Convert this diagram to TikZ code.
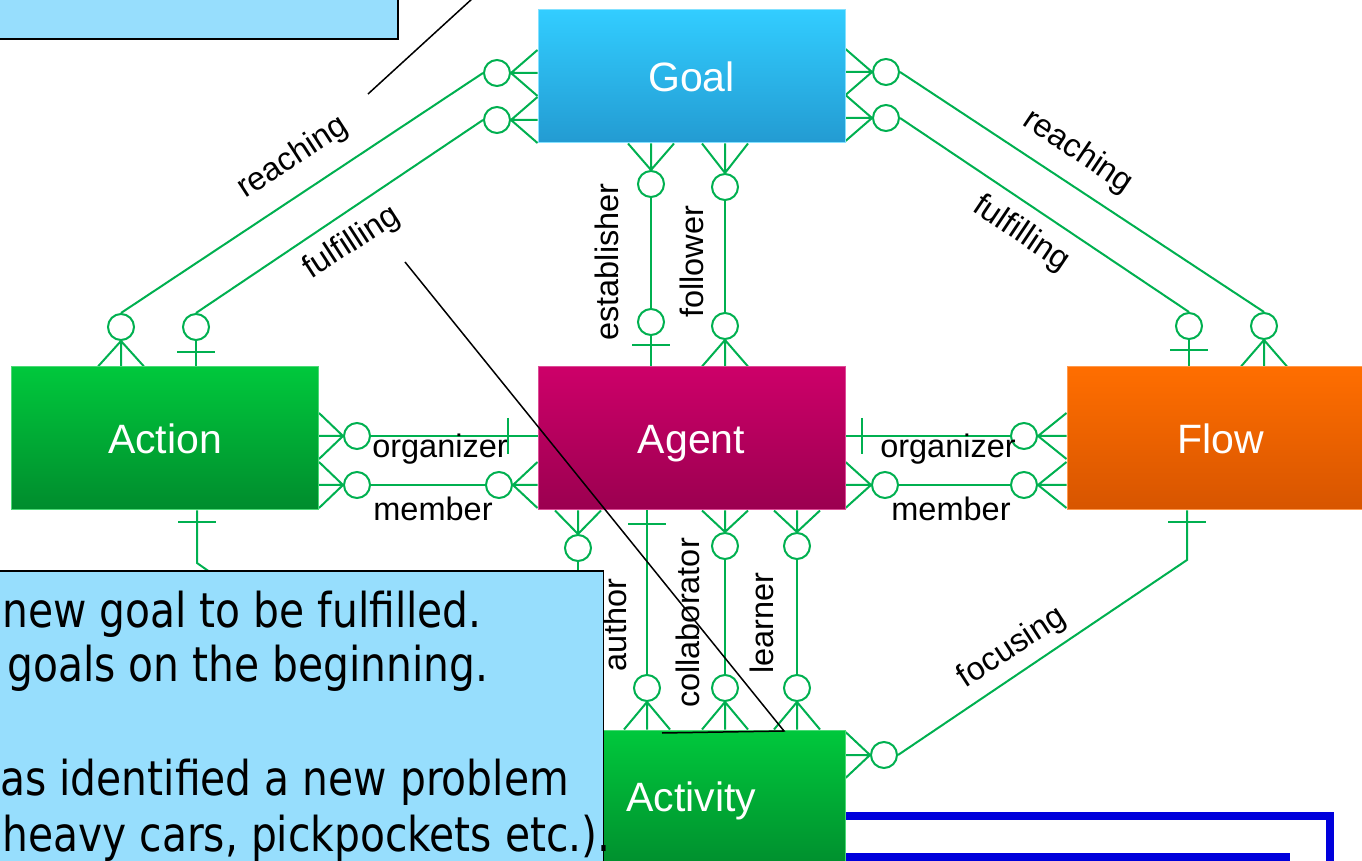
\documentclass[tikz,border=0pt]{standalone}
\usepackage{fontspec}
\setmainfont{Liberation Sans}
\newfontfamily\calfont{DejaVu Sans}[FakeStretch=0.85]
\usetikzlibrary{calc}
\definecolor{erg}{RGB}{0,176,80}
\definecolor{goalT}{RGB}{50,205,255}
\definecolor{goalB}{RGB}{35,155,210}
\definecolor{actT}{RGB}{0,200,60}
\definecolor{actB}{RGB}{0,140,45}
\definecolor{agT}{RGB}{205,0,105}
\definecolor{agB}{RGB}{155,0,80}
\definecolor{flT}{RGB}{255,110,0}
\definecolor{flB}{RGB}{215,85,0}
\definecolor{callfill}{RGB}{151,222,253}
\definecolor{frameblue}{RGB}{0,0,220}
\newcommand\crowH[2]{\draw[erline] (#1) -- ($(#2 |- #1)+(0,-23)$) (#1) -- (#2 |- #1) (#1) -- ($(#2 |- #1)+(0,23)$);}
\newcommand\crowV[2]{\draw[erline] (#1) -- ($(#1 |- #2)+(-23,0)$) (#1) -- (#1 |- #2) (#1) -- ($(#1 |- #2)+(23,0)$);}
\tikzset{
  erline/.style={draw=erg, line width=1pt},
  cf/.style={circle, draw=erg, line width=1pt, minimum size=13pt, inner sep=0pt},
  entity/.style={minimum width=153.5pt, minimum height=71.5pt, inner sep=0pt, text=white,
    font=\fontsize{20.5pt}{24pt}\selectfont, line width=0.5pt, text height=14.7pt, text depth=0pt},
  rel/.style={font=\fontsize{16.25pt}{19pt}\selectfont, inner sep=0pt, text=black},
  pointer/.style={draw=black, line width=0.75pt},
  callout/.style={draw=black, line width=0.75pt, fill=callfill},
  calltext/.style={anchor=base west, inner sep=0pt, font=\calfont\fontsize{24pt}{28pt}\selectfont},
  bluebar/.style={draw=frameblue, line width=4pt}
}
\begin{document}
\begin{tikzpicture}[x=0.5pt,y=-0.5pt]
\useasboundingbox (0,0) rectangle (1362,861);
\clip (0,0) rectangle (1362,861);

% blue frame (behind Activity)
\draw[bluebar] (845,816) -- (1330,816) -- (1330,875);
\draw[bluebar] (845,857) -- (1286,857) -- (1286,875);

% entity positions
\node[entity, minimum height=66.5pt] (goal) at (691.5,76.5) {};
\node[entity] (action) at (165,438.5) {};
\node[entity] (agent) at (691.5,438.5) {};
\node[entity] (flow) at (1220.5,438.5) {};
\node[entity] (activity) at (691.5,801.5) {};

% circles
\node[cf] (g1) at (497,73) {};
\node[cf] (g2) at (497,120) {};
\node[cf] (g3) at (886,72) {};
\node[cf] (g4) at (886,118) {};
\node[cf] (g5) at (651,184) {};
\node[cf] (g6) at (725,187) {};
\node[cf] (a1) at (651,322) {};
\node[cf] (a2) at (725,326) {};
\node[cf] (c1) at (121,327) {};
\node[cf] (c2) at (196,327) {};
\node[cf] (f1) at (1189,326) {};
\node[cf] (f2) at (1264,326) {};
\node[cf] (ac1) at (357,436) {};
\node[cf] (ac2) at (357,485) {};
\node[cf] (ag1) at (499,485) {};
\node[cf] (fr1) at (1024,436) {};
\node[cf] (ag2) at (885,485) {};
\node[cf] (fr2) at (1024,485) {};
\node[cf] (b1) at (578,548) {};
\node[cf] (b3) at (725,546) {};
\node[cf] (b4) at (797,546) {};
\node[cf] (d2) at (647,688) {};
\node[cf] (d3) at (725,688) {};
\node[cf] (d4) at (797,688) {};
\node[cf] (e1) at (884,755) {};
\coordinate (fb) at (1187,560);
\coordinate (ab) at (197,563);

% Goal - Action
\crowH{g1.east}{goal.west}
\crowH{g2.east}{goal.west}
\draw[erline] (c1.north) -- (g1.west);
\draw[erline] (c2.north) -- (g2.west);
\crowV{c1.south}{action.north}
\draw[erline] (c2.south) -- (c2.south |- action.north);
\draw[erline] ($(c2.south |- action.north)+(-19,-14)$) -- ++(38,0);

% Goal - Flow
\crowH{g3.west}{goal.east}
\crowH{g4.west}{goal.east}
\draw[erline] (g3.east) -- (f2.north);
\draw[erline] (g4.east) -- (f1.north);
\crowV{f2.south}{flow.north}
\draw[erline] (f1.south) -- (f1.south |- flow.north);
\draw[erline] ($(f1.south |- flow.north)+(-19,-16)$) -- ++(38,0);

% Goal - Agent
\crowV{g5.north}{goal.south}
\crowV{g6.north}{goal.south}
\draw[erline] (g5.south) -- (a1.north);
\draw[erline] (g6.south) -- (a2.north);
\draw[erline] (a1.south) -- (a1.south |- agent.north);
\draw[erline] ($(a1.south |- agent.north)+(-19,-21)$) -- ++(38,0);
\crowV{a2.south}{agent.north}

% Action - Agent
\crowH{ac1.west}{action.east}
\crowH{ac2.west}{action.east}
\draw[erline] (ac1.east) -- (agent.west |- ac1.east);
\draw[erline] ($(agent.west |- ac1.east)+(-30,-18)$) -- ++(0,36);
\draw[erline] (ac2.east) -- (ag1.west);
\crowH{ag1.east}{agent.west}

% Agent - Flow
\draw[erline] (agent.east |- fr1.west) -- (fr1.west);
\draw[erline] ($(agent.east |- fr1.west)+(16,-18)$) -- ++(0,36);
\crowH{fr1.east}{flow.west}
\crowH{ag2.west}{agent.east}
\draw[erline] (ag2.east) -- (fr2.west);
\crowH{fr2.east}{flow.west}

% Agent - Activity
\crowV{b1.north}{agent.south}
\draw[erline] (b1.south) -- (b1.south |- activity.north);
\draw[erline] (d2 |- agent.south) -- (d2.north);
\draw[erline] ($(d2 |- agent.south)+(-19,14)$) -- ++(38,0);
\crowV{d2.south}{activity.north}
\crowV{b3.north}{agent.south}
\draw[erline] (b3.south) -- (d3.north);
\crowV{d3.south}{activity.north}
\crowV{b4.north}{agent.south}
\draw[erline] (b4.south) -- (d4.north);
\crowV{d4.south}{activity.north}

% Flow - Activity
\draw[erline] (fb |- flow.south) -- (fb) -- (e1.east);
\draw[erline] ($(fb |- flow.south)+(-19,12)$) -- ++(38,0);
\crowH{e1.west}{activity.east}

% Action - Activity (mostly hidden)
\draw[erline] (ab |- action.south) -- (ab) -- (activity.west);
\draw[erline] ($(ab |- action.south)+(-19,12)$) -- ++(38,0);

% entities drawn on top
\node[entity, minimum height=66.5pt, top color=goalT, bottom color=goalB, draw=goalT!60!white] at (goal) {Goal};
\node[entity, top color=actT, bottom color=actB, draw=actT!70!white] at (action) {Action};
\node[entity, top color=agT, bottom color=agB, draw=agT!70!white] at (agent) {Agent};
\node[entity, top color=flT, bottom color=flB, draw=flT!70!white] at (flow) {Flow};
\node[entity, top color=actT, bottom color=actB, draw=actT!70!white] at (activity) {\raisebox{2.25pt}{Activity}};

% relation labels
\node[rel, rotate=33] (l1) at (293,158) {reaching};
\node[rel, rotate=33] (l2) at (352,243) {fulfilling};
\node[rel, rotate=-34] (l3) at (1078,152) {reaching};
\node[rel, rotate=-34] (l4) at (1021,234) {fulfilling};
\node[rel, rotate=90] (l5) at (607,262) {establisher};
\node[rel, rotate=90] (l6) at (692,262) {follower};
\node[rel] (l7) at (440,449) {organizer};
\node[rel] (l8) at (433,509) {member};
\node[rel] (l9) at (948,449) {organizer};
\node[rel] (l10) at (951,509) {member};
\node[rel, rotate=90] (l11) at (615,625) {author};
\node[rel, rotate=90] (l12) at (688,623) {collaborator};
\node[rel, rotate=90] (l13) at (762,623) {learner};
\node[rel, rotate=33] (l14) at (1012,648) {focusing};

% black pointer lines
\coordinate (p1) at (368,94);
\coordinate (p2) at (473,-2);
\draw[pointer] (p1) -- (p2);
\coordinate (q1) at (405,262);
\coordinate (q2) at (784,731);
\coordinate (q3) at (662,733);
\draw[pointer] (q1) -- (q2) -- (q3);

% callouts
\node[callout, minimum width=204pt, minimum height=24.5pt, inner sep=0pt] (call1) at (194,14.5) {};
\node[callout, minimum width=311.5pt, minimum height=160pt, inner sep=0pt] (call2) at (292,731) {};
\node[calltext] (t1) at (2,627) {new goal to be fulfilled.};
\node[calltext] (t2) at (7,682) {goals on the beginning.};
\node[calltext] (t3) at (0,795) {as identified a new problem};
\node[calltext] (t4) at (2,851) {heavy cars, pickpockets etc.).};
\end{tikzpicture}
\end{document}
